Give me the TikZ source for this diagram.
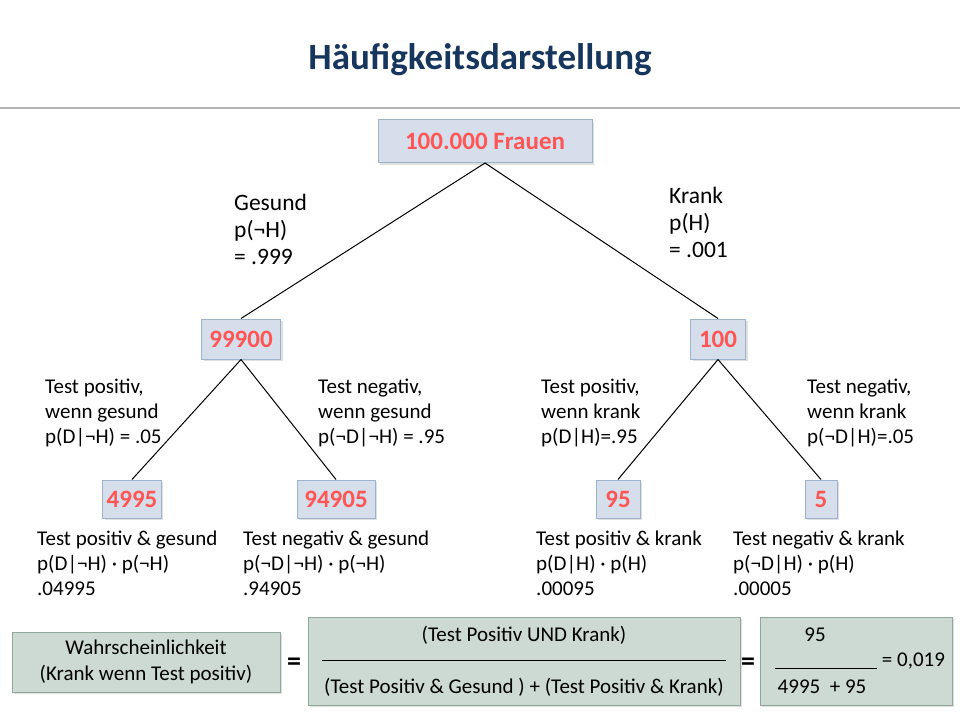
\documentclass[tikz,border=0pt]{standalone}
\usepackage{fontspec}
\setmainfont{Carlito}
\usetikzlibrary{positioning,shadows}

\definecolor{titleblue}{HTML}{17365D}
\definecolor{boxfill}{HTML}{D5DEEA}
\definecolor{boxline}{HTML}{9DB3CC}
\definecolor{numred}{HTML}{FF5555}
\definecolor{eqfill}{HTML}{CCDAD3}
\definecolor{eqline}{HTML}{8FA89A}

\tikzset{
  numbox/.style={draw=boxline, fill=boxfill, line width=1pt, drop shadow={opacity=0.25, shadow xshift=2pt, shadow yshift=-2pt},
    text=numred, font=\fontsize{25}{30}\selectfont\bfseries, minimum height=40pt, inner xsep=4pt},
  lbl/.style={anchor=north west, align=left, inner sep=0pt, font=\fontsize{21}{25}\selectfont},
  biglbl/.style={lbl, font=\fontsize{23.5}{27}\selectfont},
  eqbox/.style={draw=eqline, fill=eqfill, line width=1pt, drop shadow={opacity=0.25, shadow xshift=2pt, shadow yshift=-2pt}},
  eqtxt/.style={inner sep=0pt, font=\fontsize{21}{26}\selectfont, align=center},
  branch/.style={line width=1pt}
}

\begin{document}
\begin{tikzpicture}[x=1pt,y=-1pt]
\useasboundingbox (0,0) rectangle (960,720);
% title
\node (title) at (480,60) {\fontsize{37}{40}\selectfont\bfseries\color{titleblue}Häufigkeitsdarstellung};
\draw [gray!60, line width=1.5pt] (0,108) -- (960,108);

% tree
\node [numbox, minimum width=214pt, minimum height=43pt] (root) at (485,141) {100.000 Frauen};
\node [numbox, minimum width=79pt] (gesund) at (241,339) {99900};
\node [numbox, minimum width=55pt] (krank) at (718,339) {100};
\node [numbox, minimum width=56pt, minimum height=38pt] (gp) at (132,499) {4995};
\node [numbox, minimum width=78pt, minimum height=38pt] (gn) at (336,499) {94905};
\node [numbox, minimum width=44pt, minimum height=38pt] (kp) at (618,499) {95};
\node [numbox, minimum width=32pt, minimum height=38pt] (kn) at (821,499) {5};

\draw [branch] (root.south) -- (gesund.north);
\draw [branch] (root.south) -- (krank.north);
\draw [branch] (gesund.south) -- (gp.north);
\draw [branch] (gesund.south) -- (gn.north);
\draw [branch] (krank.south) -- (kp.north);
\draw [branch] (krank.south) -- (kn.north);

% branch labels
\node [biglbl] (lgesund) at (234,194) {Gesund\\p(¬H)\\= .999};
\node [biglbl] (lkrank) at (669,187) {Krank\\p(H)\\= .001};
\node [lbl] (lgp) at (45,379) {Test positiv,\\wenn gesund\\p(D|¬H) = .05};
\node [lbl] (lgn) at (318,379) {Test negativ,\\wenn gesund\\p(¬D|¬H) = .95};
\node [lbl] (lkp) at (541,379) {Test positiv,\\wenn krank\\p(D|H)=.95};
\node [lbl] (lkn) at (807,379) {Test negativ,\\wenn krank\\p(¬D|H)=.05};

% leaf labels
\node [lbl] (rgp) at (37,531) {Test positiv \& gesund\\p(D|¬H) · p(¬H)\\.04995};
\node [lbl] (rgn) at (243,531) {Test negativ \& gesund\\p(¬D|¬H) · p(¬H)\\.94905};
\node [lbl] (rkp) at (536,531) {Test positiv \& krank\\p(D|H) · p(H)\\.00095};
\node [lbl] (rkn) at (733,531) {Test negativ \& krank\\p(¬D|H) · p(H)\\.00005};

% formula
\node [eqbox, minimum width=268pt, minimum height=60pt] (wahr) at (146,662) {};
\node [eqtxt] (wahrtxt) at (wahr.center) {Wahrscheinlichkeit\\(Krank wenn Test positiv)};
\node [eqbox, minimum width=432pt, minimum height=88pt] (bruch) at (524,661) {};
\node [eqtxt] (zaehler) at (524,635) {(Test Positiv UND Krank)};
\node [eqtxt] (strich) at (524,660) {\rule{404pt}{0.8pt}};
\node [eqtxt] (nenner) at (524,687) {(Test Positiv \& Gesund ) + (Test Positiv \& Krank)};
\node [eqbox, minimum width=192pt, minimum height=88pt] (wert) at (856,661) {};
\node [eqtxt] (wz) at (815,635) {95};
\node [eqtxt, anchor=west] (wstrich) at (775,661) {\rule[-2pt]{102pt}{0.8pt} = 0,019};
\node [eqtxt] (wn) at (822,687) {4995~~+ 95};
\node [font=\fontsize{28}{28}\selectfont\bfseries] (gl1) at (294,664) {=};
\node [font=\fontsize{28}{28}\selectfont\bfseries] (gl2) at (748,664) {=};
\end{tikzpicture}
\end{document}
